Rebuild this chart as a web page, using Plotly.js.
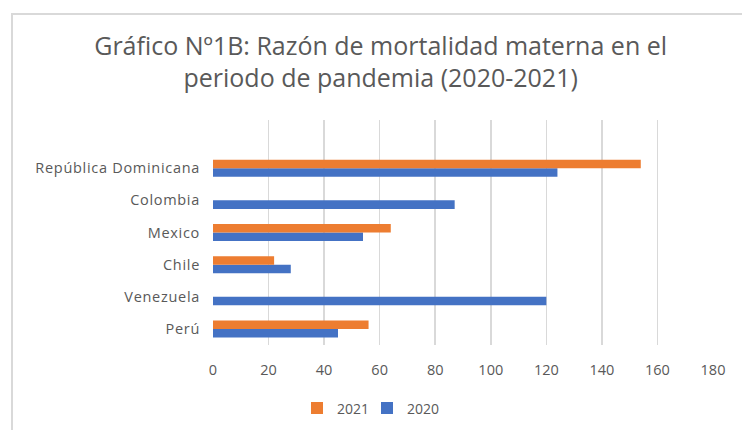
<!DOCTYPE html>
<html>
<head>
<meta charset="utf-8">
<script src="https://cdn.plot.ly/plotly-3.0.1.min.js"></script>
<style>
html,body{margin:0;padding:0;background:#fff;}
#wrap{position:relative;width:742px;height:430px;overflow:hidden;}
#frame{position:absolute;left:11px;top:13px;width:800px;height:500px;border-top:2px solid #d9d9d9;border-left:2px solid #d9d9d9;pointer-events:none;}
#chart{position:absolute;left:0;top:0;width:742px;height:430px;}
.ytick text{letter-spacing:0.7px;}
</style>
</head>
<body>
<div id="wrap"><div id="chart"></div><div id="frame"></div></div>
<script>
const categories = ['Perú', 'Venezuela', 'Chile', 'Mexico', 'Colombia', 'República Dominicana'];
const values2020 = [45, 120, 28, 54, 87, 124];
const values2021 = [56, null, 22, 64, null, 154];
const xTicks = [0, 20, 40, 60, 80, 100, 120, 140, 160, 180];

const traces = [
  {type:'bar', orientation:'h', name:'2020', y:categories, x:values2020,
   marker:{color:'#4472c4'}, legend:'legend2'},
  {type:'bar', orientation:'h', name:'2021', y:categories, x:values2021,
   marker:{color:'#ed7d31'}, legend:'legend'}
];

const legendBase = {orientation:'h', xref:'container', yref:'container', xanchor:'left', yanchor:'middle',
  y:0.05, font:{size:14, color:'#595959'}, itemwidth:30, bgcolor:'rgba(0,0,0,0)'};

const layout = {
  width:742, height:430,
  margin:{l:213, r:29, t:120, b:85, autoexpand:false},
  paper_bgcolor:'rgba(0,0,0,0)', plot_bgcolor:'rgba(0,0,0,0)',
  font:{family:'"Open Sans", "Noto Sans", sans-serif', color:'#595959', size:14},
  title:{text:'Gráfico Nº1B: Razón de mortalidad materna en el<br>periodo de pandemia (2020-2021)',
         x:0.513, xanchor:'center', y:0.873, yanchor:'middle',
         font:{size:25, color:'#595959', family:'"Open Sans", sans-serif'}},
  barmode:'group', bargap:0.47, bargroupgap:0,
  xaxis:{range:[0,180], tickvals:xTicks, showgrid:true, gridcolor:'#d9d9d9', gridwidth:1.5,
         zeroline:false, showline:false, ticks:'', ticklabelstandoff:14, fixedrange:true,
         tickfont:{size:14.5}, automargin:false},
  yaxis:{type:'category', categoryorder:'array', categoryarray:categories, range:[-0.5, 6.5],
         showgrid:false, zeroline:false, showline:false, ticks:'', ticklabelstandoff:12,
         tickfont:{size:14.5}, automargin:false},
  showlegend:true,
  legend:Object.assign({}, legendBase, {x:297/742}),
  legend2:Object.assign({}, legendBase, {x:367/742})
};

Plotly.newPlot('chart', traces, layout, {displayModeBar:false, staticPlot:true});
</script>
</body>
</html>
